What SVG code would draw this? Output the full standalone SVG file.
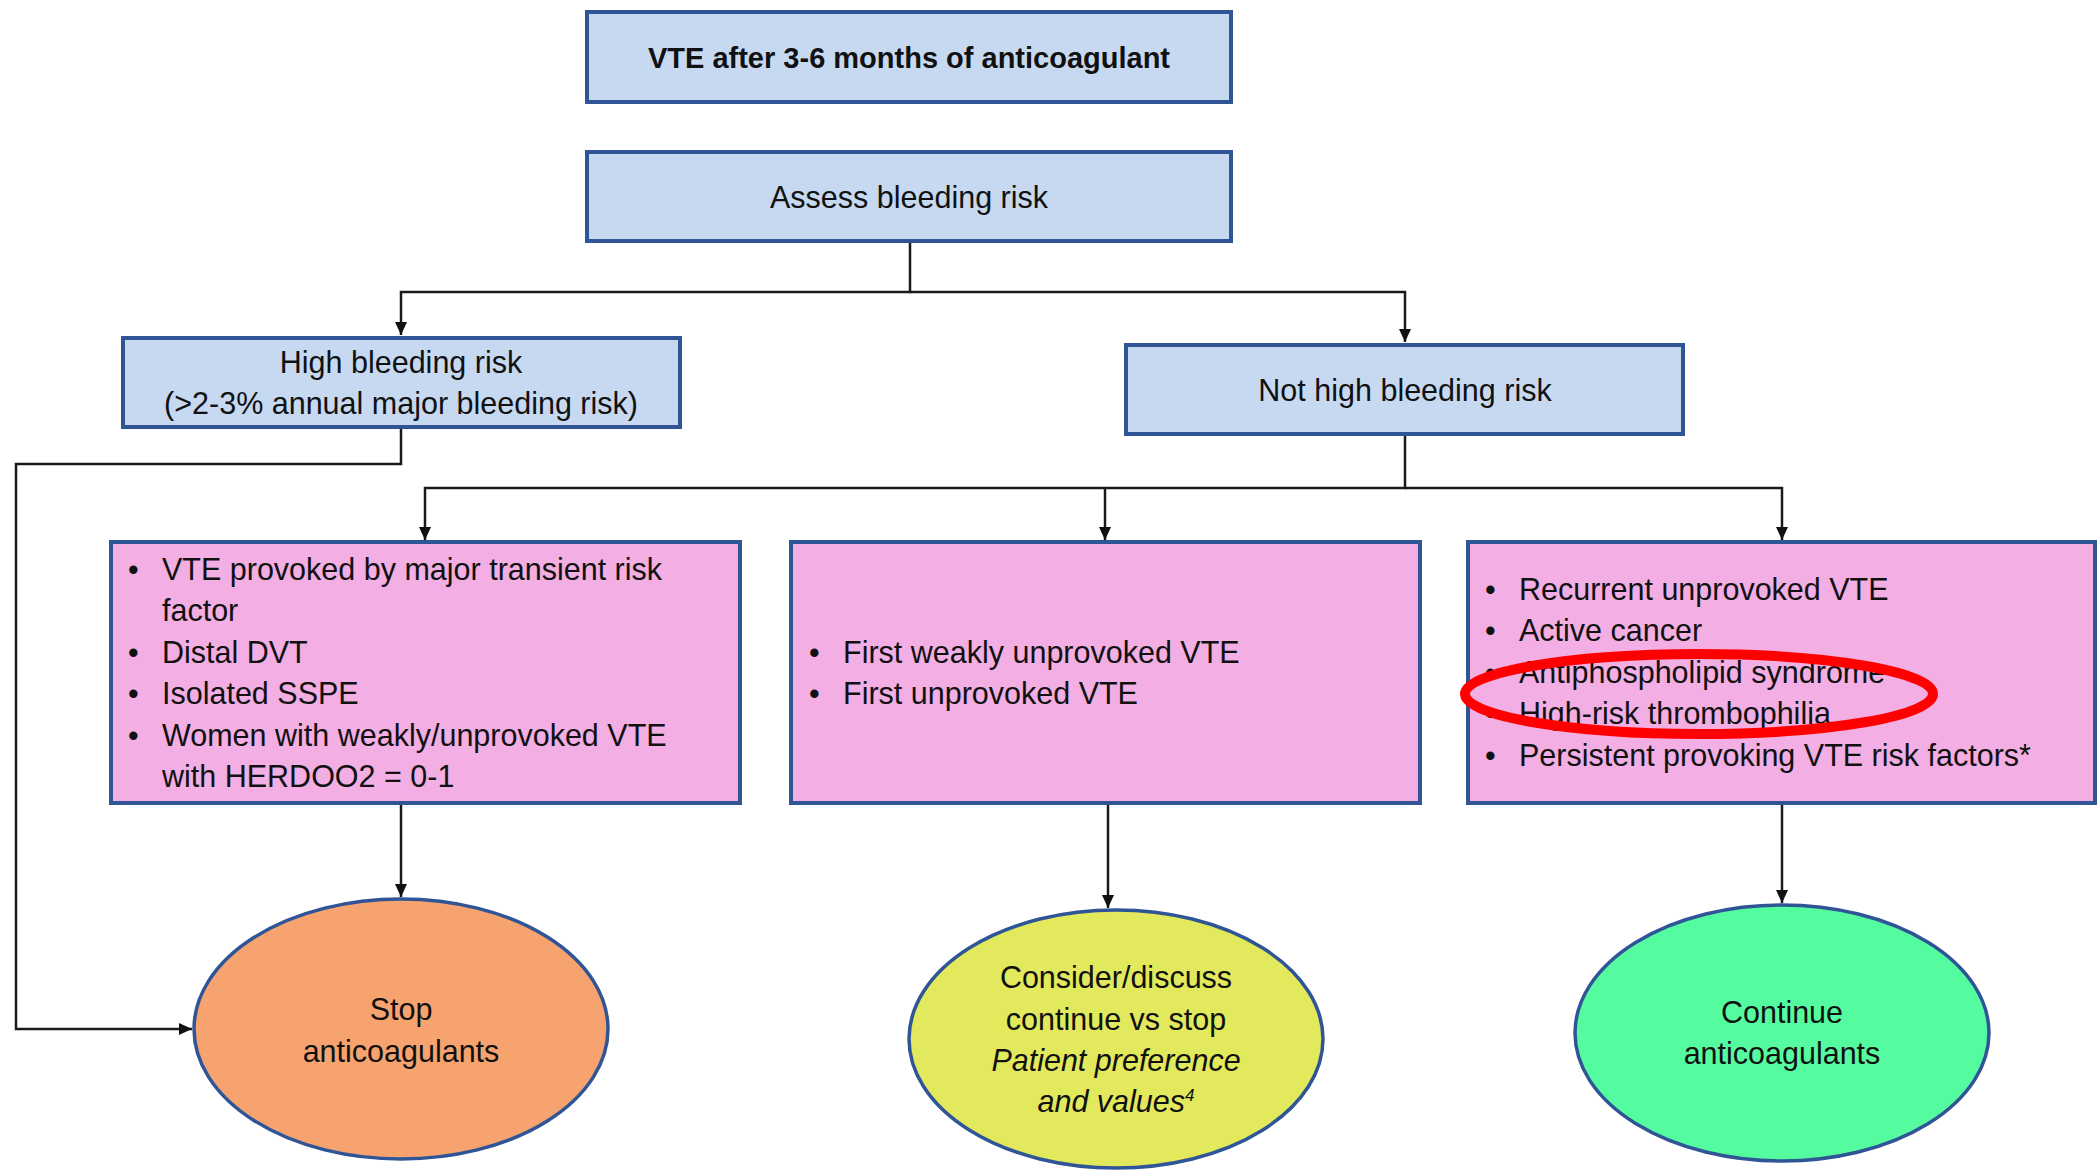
<svg xmlns="http://www.w3.org/2000/svg" width="2098" height="1173" viewBox="0 0 2098 1173">
<style>
  text { font-family: "Liberation Sans", Arial, sans-serif; font-size: 30.5px; fill: #111; }
  .c { text-anchor: middle; }
  .b { font-weight: bold; font-size: 29px; }
  .i { font-style: italic; }
  .blue { fill: #C6D9F1; stroke: #2F5597; stroke-width: 4; }
  .pink { fill: #F3AEE3; stroke: #2F5597; stroke-width: 4; }
  .ell { stroke: #2F5597; stroke-width: 3.5; }
  .conn { fill: none; stroke: #1a1a1a; stroke-width: 2.5; }
</style>
<defs>
  <marker id="arr" markerUnits="userSpaceOnUse" markerWidth="14" markerHeight="12" refX="13" refY="6" orient="auto">
    <path d="M0,0 L13,6 L0,12 z" fill="#111"/>
  </marker>
</defs>
<rect width="2098" height="1173" fill="#fff"/>

<g id="connectors">
  <path class="conn" d="M910,241 V292 H401 V335" marker-end="url(#arr)"/>
  <path class="conn" d="M910,292 H1405 V342" marker-end="url(#arr)"/>
  <path class="conn" d="M401,427 V464 H16 V1029 H192" marker-end="url(#arr)"/>
  <path class="conn" d="M1405,434 V488 H425 V540" marker-end="url(#arr)"/>
  <path class="conn" d="M1105,488 V540" marker-end="url(#arr)"/>
  <path class="conn" d="M1405,488 H1782 V540" marker-end="url(#arr)"/>
  <path class="conn" d="M401,803 V897" marker-end="url(#arr)"/>
  <path class="conn" d="M1108,803 V908" marker-end="url(#arr)"/>
  <path class="conn" d="M1782,803 V903" marker-end="url(#arr)"/>
</g>

<g id="n-title">
  <rect class="blue" x="587" y="12" width="644" height="90"/>
  <text class="c b" x="909" y="68">VTE after 3-6 months of anticoagulant</text>
</g>

<g id="n-assess">
  <rect class="blue" x="587" y="152" width="644" height="89"/>
  <text class="c" x="909" y="208">Assess bleeding risk</text>
</g>

<g id="n-high">
  <rect class="blue" x="123" y="338" width="557" height="89"/>
  <text class="c" x="401" y="373">High bleeding risk</text>
  <text class="c" x="401" y="414">(&gt;2-3% annual major bleeding risk)</text>
</g>

<g id="n-nothigh">
  <rect class="blue" x="1126" y="345" width="557" height="89"/>
  <text class="c" x="1405" y="401">Not high bleeding risk</text>
</g>

<g id="n-low">
  <rect class="pink" x="111" y="542" width="629" height="261"/>
  <text x="128" y="580">•</text><text x="162" y="580">VTE provoked by major transient risk</text>
  <text x="162" y="621">factor</text>
  <text x="128" y="663">•</text><text x="162" y="663">Distal DVT</text>
  <text x="128" y="704">•</text><text x="162" y="704">Isolated SSPE</text>
  <text x="128" y="746">•</text><text x="162" y="746">Women with weakly/unprovoked VTE</text>
  <text x="162" y="787">with HERDOO2 = 0-1</text>
</g>

<g id="n-mid">
  <rect class="pink" x="791" y="542" width="629" height="261"/>
  <text x="809" y="663">•</text><text x="843" y="663">First weakly unprovoked VTE</text>
  <text x="809" y="704">•</text><text x="843" y="704">First unprovoked VTE</text>
</g>

<g id="n-high-risk">
  <rect class="pink" x="1468" y="542" width="627" height="261"/>
  <text x="1485" y="600">•</text><text x="1519" y="600">Recurrent unprovoked VTE</text>
  <text x="1485" y="641">•</text><text x="1519" y="641">Active cancer</text>
  <text x="1485" y="683">•</text><text x="1519" y="683">Antiphospholipid syndrome</text>
  <text x="1485" y="724">•</text><text x="1519" y="724">High-risk thrombophilia</text>
  <text x="1485" y="766">•</text><text x="1519" y="766">Persistent provoking VTE risk factors*</text>
  <ellipse cx="1699" cy="694" rx="234" ry="40" fill="none" stroke="#FF0000" stroke-width="10"/>
</g>

<g id="n-stop">
  <ellipse class="ell" cx="401" cy="1029" rx="207" ry="130" fill="#F6A36F"/>
  <text class="c" x="401" y="1020">Stop</text>
  <text class="c" x="401" y="1062">anticoagulants</text>
</g>

<g id="n-consider">
  <ellipse class="ell" cx="1116" cy="1039" rx="207" ry="129" fill="#E2E95C"/>
  <text class="c" x="1116" y="988">Consider/discuss</text>
  <text class="c" x="1116" y="1030">continue vs stop</text>
  <text class="c i" x="1116" y="1071">Patient preference</text>
  <text class="c i" x="1116" y="1112">and values<tspan font-size="17" dy="-11">4</tspan></text>
</g>

<g id="n-continue">
  <ellipse class="ell" cx="1782" cy="1033" rx="207" ry="128" fill="#55FB9F"/>
  <text class="c" x="1782" y="1023">Continue</text>
  <text class="c" x="1782" y="1064">anticoagulants</text>
</g>
</svg>
